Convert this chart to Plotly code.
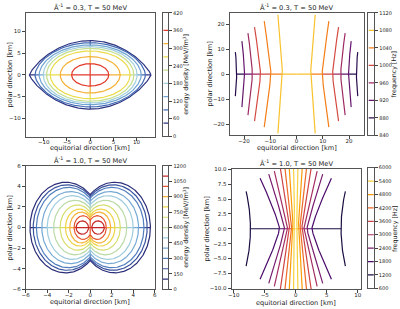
import numpy as np
import plotly.graph_objects as go

# ---------------- data ----------------
# Panel 1: A^-1 = 0.3, energy density contours (outer -> inner)
ed1_levels = [45, 90, 135, 180, 225, 270, 315, 360]
ed1_halfwidth = [13.1, 11.9, 11.0, 10.1, 9.4, 8.6, 6.45, 4.0]
ed1_halfheight = [7.9, 7.4, 6.9, 6.5, 6.1, 5.5, 4.2, 2.6]
ed1_shape = [0.8, 0.6, 0.55, 0.5, 0.5, 0.5, 0.5, 0.5]
ed1_ticks = [0, 60, 120, 180, 240, 300, 360, 420]

# Panel 2: A^-1 = 0.3, frequency contours (outer -> inner), mirrored left/right
fr1_levels = [880, 920, 960, 1000, 1040, 1080]
fr1_mid = [22.8, 19.8, 16.8, 13.7, 9.7, 5.3]
fr1_end = [23.3, 20.8, 18.5, 16.0, 12.3, 7.1]
fr1_yend = [8.8, 13.2, 16.4, 18.8, 21.2, 23.7]
fr1_shape = [2.0, 1.5, 1.3, 1.2, 1.1, 1.0]
fr1_ticks = [840, 880, 920, 960, 1000, 1040, 1080, 1120]

# Panel 3: A^-1 = 1.0, energy density contours (outer -> inner peanut shapes)
ed2_levels = [100, 200, 300, 400, 500, 600, 700, 800, 900, 1000]
ed2_halfwidth = [5.6, 5.3, 5.0, 4.5, 4.0, 3.4, 2.8, 2.3, 1.9, 1.5]
ed2_lobeheight = [4.4, 4.15, 3.9, 3.5, 3.1, 2.65, 2.2, 1.8, 1.5, 1.15]
ed2_waist = [3.2, 3.05, 2.85, 2.55, 2.2, 1.85, 1.5, 1.2, 0.95, 0.7]
ed2_core_level = 1100
ed2_core_center = 0.73
ed2_core_rx = 0.58
ed2_core_ry = 0.65
ed2_ticks = [0, 150, 300, 450, 600, 750, 900, 1050, 1200]

# Panel 4: A^-1 = 1.0, frequency contours (outer -> inner), mirrored left/right
fr2_levels = [1200, 1800, 2400, 3000, 3600, 4200, 4800, 5400]
fr2_mid = [7.3, 2.6, 1.8, 1.3, 0.95, 0.65, 0.4, 0.15]
fr2_end = [8.0, 5.75, 4.35, 3.45, 2.5, 1.75, 1.05, 0.35]
fr2_yend = [6.3, 8.5, 9.2, 9.7, 10.3, 10.3, 10.3, 10.3]
fr2_shape = [2.0, 1.2, 1.1, 1.0, 1.0, 1.0, 1.0, 1.0]
fr2_ticks = [600, 1200, 1800, 2400, 3000, 3600, 4200, 4800, 5400, 6000]

# ---------------- colour maps ----------------
ED_CMAP = [(0.00, '#262262'), (0.10, '#2c2f7c'), (0.21, '#4169b3'), (0.32, '#6fa3d2'),
           (0.43, '#a4d0dc'), (0.54, '#c5df86'), (0.65, '#eddb45'), (0.76, '#f6ad35'),
           (0.86, '#e0362a'), (1.00, '#a01020')]
INF = ['#000004', '#1b0c41', '#4a0c6b', '#781c6d', '#a52c60', '#cf4446',
       '#ed6925', '#fb9b06', '#f7d13d', '#fcffa4']
FR_CMAP = [(i / 9, c) for i, c in enumerate(INF)]


def hex2rgb(h):
    h = h.lstrip('#')
    return [int(h[i:i + 2], 16) for i in (0, 2, 4)]


def cmap(scale, f):
    f = min(max(f, 0), 1)
    for (p0, c0), (p1, c1) in zip(scale[:-1], scale[1:]):
        if p0 <= f <= p1:
            t = (f - p0) / (p1 - p0) if p1 > p0 else 0
            a, b = hex2rgb(c0), hex2rgb(c1)
            return 'rgb(%d,%d,%d)' % tuple(round(a[i] + (b[i] - a[i]) * t) for i in range(3))
    return scale[-1][1]


FONT = 'DejaVu Sans'
LW = 1.2
fig = go.Figure()


def line(x, y, color, xa, ya):
    fig.add_trace(go.Scatter(x=x, y=y, mode='lines', line=dict(color=color, width=LW),
                             xaxis=xa, yaxis=ya, hoverinfo='skip', showlegend=False))


def axis_segments(cross, colors, xa, ya, horizontal=True):
    # segments along an axis line between successive contour crossings
    n = len(cross)
    for k in range(n):
        outer = cross[k]
        inner = cross[k + 1] if k + 1 < n else 0.0
        for s in (1, -1):
            c = [s * outer, s * inner]
            if horizontal:
                line(c, [0, 0], colors[k], xa, ya)
            else:
                line([0, 0], c, colors[k], xa, ya)


# ---- panel 1 ----
t = np.linspace(0, 2 * np.pi, 361)
c1 = [cmap(ED_CMAP, v / 420) for v in ed1_levels]
axis_segments(ed1_halfwidth, c1, 'x', 'y', True)
axis_segments(ed1_halfheight, c1, 'x', 'y', False)
for a, b, n, col in zip(ed1_halfwidth, ed1_halfheight, ed1_shape, c1):
    x = a * np.cos(t)
    y = b * np.sign(np.sin(t)) * np.abs(np.sin(t)) ** (2 * n)
    line(x, y, col, 'x', 'y')

# ---- panel 2 ----
c2 = [cmap(FR_CMAP, (v - 840) / 280) for v in fr1_levels]
axis_segments(fr1_mid, c2, 'x2', 'y2', True)
for m, e, ye, p, col in zip(fr1_mid, fr1_end, fr1_yend, fr1_shape, c2):
    yy = np.linspace(-ye, ye, 161)
    xx = m + (e - m) * (np.abs(yy) / ye) ** p
    line(xx, yy, col, 'x2', 'y2')
    line(-xx, yy, col, 'x2', 'y2')

# ---- panel 3 ----
c3 = [cmap(ED_CMAP, v / 1200) for v in ed2_levels]
ccore = cmap(ED_CMAP, ed2_core_level / 1200)
axis_segments(ed2_halfwidth + [ed2_core_center + ed2_core_rx], c3 + [ccore], 'x3', 'y3', True)
axis_segments(ed2_waist, c3, 'x3', 'y3', False)
for a, q, d, col in zip(ed2_halfwidth, ed2_lobeheight, ed2_waist, c3):
    r = np.sqrt(1 - (d / q) ** 2)
    p = a / (1 + r)
    x0 = r * p
    phm = np.arccos(-x0 / p)
    ph = np.linspace(-phm, phm, 181)
    xr = x0 + p * np.cos(ph)
    yr = q * np.sin(ph)
    ph2 = ph[::-1]
    xl = -x0 - p * np.cos(ph2)
    yl = q * np.sin(ph2)
    line(np.concatenate([xr, xl]), np.concatenate([yr, yl]), col, 'x3', 'y3')
for s in (1, -1):
    line(s * ed2_core_center + ed2_core_rx * np.cos(t), ed2_core_ry * np.sin(t), ccore, 'x3', 'y3')

# ---- panel 4 ----
c4 = [cmap(FR_CMAP, (v - 600) / 5400) for v in fr2_levels]
axis_segments(fr2_mid, c4, 'x4', 'y4', True)
for m, e, ye, p, col in zip(fr2_mid, fr2_end, fr2_yend, fr2_shape, c4):
    yy = np.linspace(-ye, ye, 161)
    xx = m + (e - m) * (np.abs(yy) / ye) ** p
    line(xx, yy, col, 'x4', 'y4')
    line(-xx, yy, col, 'x4', 'y4')

# ---- colour bars (line contours shown as coloured ticks) ----
for lv, col, xa, ya in ([(v, c, 'x5', 'y5') for v, c in zip(ed1_levels, c1)] +
                        [(v, c, 'x6', 'y6') for v, c in zip(fr1_levels, c2)] +
                        [(v, c, 'x7', 'y7') for v, c in zip(ed2_levels + [ed2_core_level], c3 + [ccore])] +
                        [(v, c, 'x8', 'y8') for v, c in zip(fr2_levels, c4)]):
    line([0, 1], [lv, lv], col, xa, ya)

W, H = 400, 309


def dx(a, b):
    return [a / W, b / W]


def dy(top, bottom):
    return [1 - bottom / H, 1 - top / H]


def common(size):
    return dict(showgrid=False, zeroline=False, showline=True, mirror=True, linecolor='#555',
                linewidth=0.8, ticks='outside', ticklen=3, tickwidth=0.8, tickcolor='#444',
                tickfont=dict(family=FONT, size=size, color='#222'))


def main_axes(i, xdom, ydom, xr, yr, xt, yt, yfmt=None):
    xs = 'xaxis' if i == 1 else 'xaxis%d' % i
    ys = 'yaxis' if i == 1 else 'yaxis%d' % i
    fig.layout[xs] = dict(domain=xdom, range=xr, tickvals=xt, anchor='y' if i == 1 else 'y%d' % i,
                          ticklabelstandoff=-3, **common(5.5))
    yd = dict(domain=ydom, range=yr, tickvals=yt, anchor='x' if i == 1 else 'x%d' % i, **common(5.5))
    if yfmt:
        yd['tickformat'] = yfmt
    fig.layout[ys] = yd


main_axes(1, dx(22, 153), dy(10, 136.5), [-13.9, 13.9], [-14.3, 14.3],
          [-10, -5, 0, 5, 10], [-10, -5, 0, 5, 10])
main_axes(2, dx(229, 365), dy(10, 135), [-25.5, 25.5], [-24.5, 24.5],
          [-20, -10, 0, 10, 20], [-20, -10, 0, 10, 20])
main_axes(3, dx(22, 153), dy(166, 292), [-6, 6], [-6, 6],
          [-6, -4, -2, 0, 2, 4, 6], [-6, -4, -2, 0, 2, 4, 6])
main_axes(4, dx(231, 362), dy(169, 292), [-10.35, 10.45], [-10.2, 10.1],
          [-10, -5, 0, 5, 10], [-10, -7.5, -5, -2.5, 0, 2.5, 5, 7.5, 10], '.1f')


def cbar_axes(i, xdom, ydom, yr, yt):
    fig.layout['xaxis%d' % i] = dict(domain=xdom, range=[0, 1], anchor='y%d' % i, showgrid=False,
                                     zeroline=False, showline=True, mirror=True, linecolor='#555',
                                     linewidth=0.8, ticks='', showticklabels=False)
    fig.layout['yaxis%d' % i] = dict(domain=ydom, range=yr, tickvals=yt, anchor='x%d' % i,
                                     side='right', **common(5))


cbar_axes(5, dx(161.7, 166.7), dy(10, 136), [0, 420], ed1_ticks)
cbar_axes(6, dx(370, 376), dy(10, 135), [840, 1120], fr1_ticks)
cbar_axes(7, dx(161, 167), dy(166, 292), [0, 1200], ed2_ticks)
cbar_axes(8, dx(369.5, 375.5), dy(168, 291), [600, 6000], fr2_ticks)

ann = []


def text(x, y, s, size=6.6, angle=0):
    ann.append(dict(x=x / W, y=1 - y / H, xref='paper', yref='paper', text=s, showarrow=False,
                    textangle=angle, xanchor='center', yanchor='middle',
                    font=dict(family=FONT, size=size, color='#222')))


t03 = 'Â<sup>-1</sup> = 0.3, T = 50 MeV'
t10 = 'Â<sup>-1</sup> = 1.0, T = 50 MeV'
text(87.5, 5, t03, 6.7)
text(297, 5, t03, 6.7)
text(87.5, 160.5, t10, 6.7)
text(296.5, 164, t10, 6.7)
xl = 'equitorial direction [km]'
yl = 'polar direction [km]'
text(87.5, 147.5, xl)
text(297, 147.5, xl)
text(87.5, 305, xl)
text(296.5, 305.5, xl)
text(6, 73, yl, angle=-90)
text(209, 72, yl, angle=-90)
text(6, 229, yl, angle=-90)
text(206, 230, yl, angle=-90)
text(185, 73, 'energy density [MeV/fm<sup>3</sup>]', 6.3, angle=-90)
text(396.5, 72.5, 'frequency [Hz]', 6.3, angle=-90)
text(185, 229, 'energy density [MeV/fm<sup>3</sup>]', 6.3, angle=-90)
text(396.5, 230, 'frequency [Hz]', 6.3, angle=-90)

fig.update_layout(width=W, height=H, margin=dict(l=0, r=0, t=0, b=0),
                  paper_bgcolor='white', plot_bgcolor='white', annotations=ann,
                  showlegend=False, font=dict(family=FONT, size=6))
fig.write_html('out.html', config={'displayModeBar': False},
               post_script="document.body.style.margin='0px';document.body.style.overflow='hidden';")
